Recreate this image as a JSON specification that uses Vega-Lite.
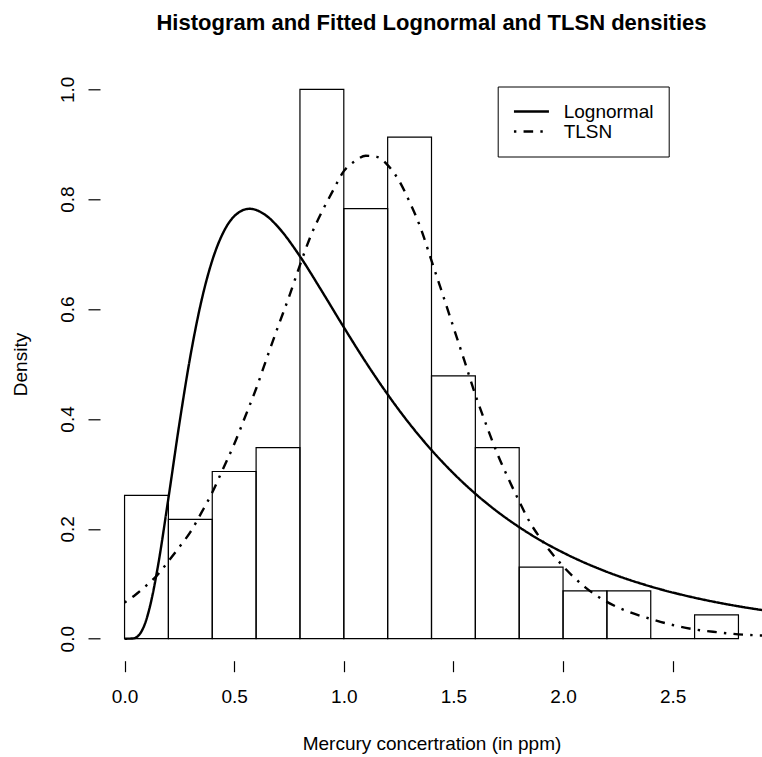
{
  "$schema": "https://vega.github.io/schema/vega-lite/v6.json",
  "width": 663,
  "height": 593.4,
  "autosize": {"type": "none"},
  "padding": {"left": 100, "top": 67.3, "right": 0, "bottom": 96.3},
  "background": "white",
  "title": {
    "text": "Histogram and Fitted Lognormal and TLSN densities",
    "font": "Liberation Sans",
    "fontSize": 22,
    "fontWeight": "bold",
    "color": "black",
    "anchor": "middle",
    "frame": "group",
    "baseline": "alphabetic",
    "offset": 15
  },
  "config": {
    "view": {"stroke": null},
    "axis": {
      "labelFont": "Liberation Sans",
      "titleFont": "Liberation Sans",
      "labelColor": "black",
      "titleColor": "black",
      "tickColor": "black",
      "grid": false,
      "domain": false,
      "labelFontSize": 19,
      "titleFontSize": 19,
      "titleFontWeight": "normal",
      "tickWidth": 1.2
    }
  },
  "datasets": {
    "bins": [
      {"start": 0.0, "end": 0.2, "density": 0.26087},
      {"start": 0.2, "end": 0.4, "density": 0.21739},
      {"start": 0.4, "end": 0.6, "density": 0.30435},
      {"start": 0.6, "end": 0.8, "density": 0.34783},
      {"start": 0.8, "end": 1.0, "density": 1.0},
      {"start": 1.0, "end": 1.2, "density": 0.78261},
      {"start": 1.2, "end": 1.4, "density": 0.91304},
      {"start": 1.4, "end": 1.6, "density": 0.47826},
      {"start": 1.6, "end": 1.8, "density": 0.34783},
      {"start": 1.8, "end": 2.0, "density": 0.13043},
      {"start": 2.0, "end": 2.2, "density": 0.08696},
      {"start": 2.2, "end": 2.4, "density": 0.08696},
      {"start": 2.4, "end": 2.6, "density": 0.0},
      {"start": 2.6, "end": 2.8, "density": 0.04348}
    ],
    "curves": [
      {"series": "Lognormal", "x": 0.0, "density": 0.0},
      {"series": "Lognormal", "x": 0.04, "density": 0.00058},
      {"series": "Lognormal", "x": 0.06, "density": 0.00444},
      {"series": "Lognormal", "x": 0.08, "density": 0.01529},
      {"series": "Lognormal", "x": 0.1, "density": 0.0355},
      {"series": "Lognormal", "x": 0.12, "density": 0.0657},
      {"series": "Lognormal", "x": 0.15, "density": 0.1269},
      {"series": "Lognormal", "x": 0.2, "density": 0.2555},
      {"series": "Lognormal", "x": 0.25, "density": 0.3913},
      {"series": "Lognormal", "x": 0.3, "density": 0.5138},
      {"series": "Lognormal", "x": 0.35, "density": 0.6138},
      {"series": "Lognormal", "x": 0.4, "density": 0.6884},
      {"series": "Lognormal", "x": 0.45, "density": 0.7391},
      {"series": "Lognormal", "x": 0.5, "density": 0.7689},
      {"series": "Lognormal", "x": 0.57, "density": 0.7825},
      {"series": "Lognormal", "x": 0.65, "density": 0.7689},
      {"series": "Lognormal", "x": 0.7, "density": 0.7495},
      {"series": "Lognormal", "x": 0.8, "density": 0.696},
      {"series": "Lognormal", "x": 0.9, "density": 0.6325},
      {"series": "Lognormal", "x": 1.0, "density": 0.5669},
      {"series": "Lognormal", "x": 1.1, "density": 0.5035},
      {"series": "Lognormal", "x": 1.2, "density": 0.4446},
      {"series": "Lognormal", "x": 1.3, "density": 0.3911},
      {"series": "Lognormal", "x": 1.4, "density": 0.3434},
      {"series": "Lognormal", "x": 1.5, "density": 0.3011},
      {"series": "Lognormal", "x": 1.6, "density": 0.2639},
      {"series": "Lognormal", "x": 1.7, "density": 0.2314},
      {"series": "Lognormal", "x": 1.8, "density": 0.2031},
      {"series": "Lognormal", "x": 1.9, "density": 0.1783},
      {"series": "Lognormal", "x": 2.0, "density": 0.1568},
      {"series": "Lognormal", "x": 2.2, "density": 0.1217},
      {"series": "Lognormal", "x": 2.4, "density": 0.095},
      {"series": "Lognormal", "x": 2.6, "density": 0.0746},
      {"series": "Lognormal", "x": 2.8, "density": 0.059},
      {"series": "Lognormal", "x": 2.95, "density": 0.0497},
      {"series": "TLSN", "x": 0.0, "density": 0.066},
      {"series": "TLSN", "x": 0.05, "density": 0.08},
      {"series": "TLSN", "x": 0.1, "density": 0.097},
      {"series": "TLSN", "x": 0.15, "density": 0.116},
      {"series": "TLSN", "x": 0.2, "density": 0.141},
      {"series": "TLSN", "x": 0.25, "density": 0.167},
      {"series": "TLSN", "x": 0.3, "density": 0.194},
      {"series": "TLSN", "x": 0.35, "density": 0.229},
      {"series": "TLSN", "x": 0.4, "density": 0.266},
      {"series": "TLSN", "x": 0.45, "density": 0.31},
      {"series": "TLSN", "x": 0.5, "density": 0.354},
      {"series": "TLSN", "x": 0.55, "density": 0.404},
      {"series": "TLSN", "x": 0.6, "density": 0.455},
      {"series": "TLSN", "x": 0.65, "density": 0.512},
      {"series": "TLSN", "x": 0.7, "density": 0.568},
      {"series": "TLSN", "x": 0.75, "density": 0.622},
      {"series": "TLSN", "x": 0.8, "density": 0.68},
      {"series": "TLSN", "x": 0.85, "density": 0.734},
      {"series": "TLSN", "x": 0.9, "density": 0.777},
      {"series": "TLSN", "x": 0.95, "density": 0.815},
      {"series": "TLSN", "x": 1.0, "density": 0.851},
      {"series": "TLSN", "x": 1.05, "density": 0.869},
      {"series": "TLSN", "x": 1.1, "density": 0.879},
      {"series": "TLSN", "x": 1.15, "density": 0.877},
      {"series": "TLSN", "x": 1.2, "density": 0.862},
      {"series": "TLSN", "x": 1.25, "density": 0.835},
      {"series": "TLSN", "x": 1.3, "density": 0.795},
      {"series": "TLSN", "x": 1.35, "density": 0.748},
      {"series": "TLSN", "x": 1.4, "density": 0.688},
      {"series": "TLSN", "x": 1.45, "density": 0.628},
      {"series": "TLSN", "x": 1.5, "density": 0.567},
      {"series": "TLSN", "x": 1.55, "density": 0.506},
      {"series": "TLSN", "x": 1.6, "density": 0.444},
      {"series": "TLSN", "x": 1.65, "density": 0.389},
      {"series": "TLSN", "x": 1.7, "density": 0.337},
      {"series": "TLSN", "x": 1.75, "density": 0.292},
      {"series": "TLSN", "x": 1.8, "density": 0.25},
      {"series": "TLSN", "x": 1.85, "density": 0.211},
      {"series": "TLSN", "x": 1.9, "density": 0.181},
      {"series": "TLSN", "x": 2.0, "density": 0.132},
      {"series": "TLSN", "x": 2.1, "density": 0.094},
      {"series": "TLSN", "x": 2.2, "density": 0.067},
      {"series": "TLSN", "x": 2.3, "density": 0.049},
      {"series": "TLSN", "x": 2.4, "density": 0.036},
      {"series": "TLSN", "x": 2.5, "density": 0.025},
      {"series": "TLSN", "x": 2.6, "density": 0.017},
      {"series": "TLSN", "x": 2.7, "density": 0.012},
      {"series": "TLSN", "x": 2.8, "density": 0.008},
      {"series": "TLSN", "x": 2.9, "density": 0.006},
      {"series": "TLSN", "x": 2.95, "density": 0.0055}
    ]
  },
  "layer": [
    {
      "data": {"name": "bins"},
      "mark": {"type": "rect", "filled": false, "color": "black", "strokeWidth": 1.2},
      "encoding": {
        "x": {
          "field": "start", "type": "quantitative",
          "scale": {"domain": [-0.112, 2.912], "nice": false, "zero": false},
          "axis": {
            "values": [0, 0.5, 1, 1.5, 2, 2.5],
            "format": ".1f",
            "tickSize": 11,
            "labelPadding": 16,
            "title": "Mercury concertration (in ppm)",
            "titleBaseline": "alphabetic",
            "titleY": 88.3
          }
        },
        "x2": {"field": "end"},
        "y": {
          "field": "density", "type": "quantitative",
          "scale": {"domain": [-0.04, 1.04], "nice": false, "zero": false},
          "axis": {
            "values": [0, 0.2, 0.4, 0.6, 0.8, 1.0],
            "format": ".1f",
            "tickSize": 12,
            "labelAngle": -90,
            "labelAlign": "center",
            "labelBaseline": "alphabetic",
            "labelPadding": 15,
            "title": "Density",
            "titleAngle": -90,
            "titleAlign": "center",
            "titleBaseline": "alphabetic",
            "titleX": -73.3,
            "titleY": 296.7
          }
        },
        "y2": {"datum": 0}
      }
    },
    {
      "data": {"name": "curves"},
      "mark": {"type": "line", "color": "black", "strokeWidth": 2.4, "clip": true, "interpolate": "monotone", "strokeCap": "butt"},
      "encoding": {
        "x": {"field": "x", "type": "quantitative"},
        "y": {"field": "density", "type": "quantitative"},
        "detail": {"field": "series"},
        "strokeDash": {
          "field": "series", "type": "nominal",
          "scale": {"domain": ["Lognormal", "TLSN"], "range": [[1, 0], [2.4, 7.2, 9.6, 7.2]]},
          "legend": {
            "title": null,
            "orient": "none",
            "legendX": 397.7,
            "legendY": 19.2,
            "padding": 15,
            "strokeColor": "black",
            "fillColor": "white",
            "symbolType": "M-1,0H3",
            "symbolSize": 306,
            "symbolStrokeWidth": 2.4,
            "symbolStrokeColor": "black",
            "labelFont": "Liberation Sans",
            "labelFontSize": 19,
            "labelColor": "black",
            "labelOffset": 31,
            "rowPadding": -1.3
          }
        }
      }
    },
    {
      "mark": {"type": "rule", "color": "black", "strokeWidth": 1.2},
      "encoding": {
        "x": {"datum": 0},
        "x2": {"datum": 2.5},
        "y": {"datum": -0.04}
      }
    },
    {
      "mark": {"type": "rule", "color": "black", "strokeWidth": 1.2},
      "encoding": {
        "x": {"datum": -0.112},
        "y": {"datum": 0},
        "y2": {"datum": 1}
      }
    }
  ]
}
